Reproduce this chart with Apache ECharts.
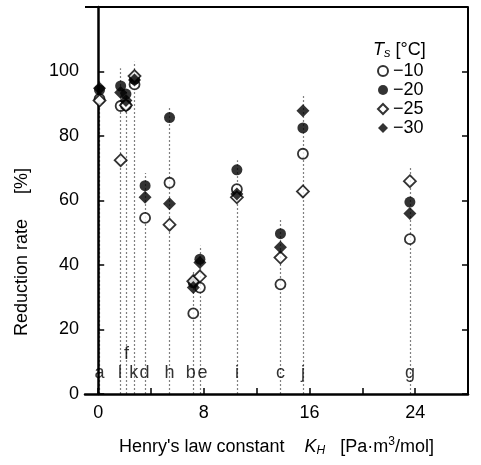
<!DOCTYPE html>
<html>
<head>
<meta charset="utf-8">
<script src="https://cdn.jsdelivr.net/npm/echarts@6/dist/echarts.min.js"></script>
<style>
  html, body { margin: 0; padding: 0; background: #fff; }
  #main { width: 481px; height: 465px; }
</style>
</head>
<body>
<div id="main"></div>
<script>
// compounds and their Henry's law constants
const compounds = ['a', 'l', 'f', 'k', 'd', 'h', 'b', 'e', 'i', 'c', 'j', 'g'];
const kh = [0.1, 1.7, 2.1, 2.75, 3.55, 5.4, 7.2, 7.7, 10.5, 13.8, 15.5, 23.6];
// reduction rate [%] for each surface temperature
const t10 = [91.5, 89.3, 89.5, 96, 54.6, 65.5, 25, 33, 63.5, 34, 74.5, 48];
const t20 = [94.3, 95.5, 93, 97.6, 64.6, 85.7, 34.5, 41.8, 69.5, 49.7, 82.5, 59.5];
const t25 = [91, 72.5, 89.5, 98.6, null, 52.5, 35, 36.5, 61, 42.3, 62.8, 66];
const t30 = [94.8, 93.5, 91, 97.4, 61, 59, 33, 40.8, 62, 45.5, 87.8, 56];
// top of the dotted guide line for each compound
const lineTop = [97, 101, 94, 103, 68.5, 89, 38, 46, 72.5, 54, 92.5, 70.5];
const labelY = [6.5, 6.5, 12.5, 6.5, 6.5, 6.5, 6.5, 6.5, 6.5, 6.5, 6.5, 6.5];
const labelX = [0.1, 1.65, 2.15, 2.7, 3.5, 5.4, 7.0, 7.9, 10.5, 13.8, 15.5, 23.6];
const xTicks = [0, 4, 8, 12, 16, 20, 24, 28];
const xLabels = [0, 8, 16, 24];
const yLabels = [0, 20, 40, 60, 80, 100];

const font = 'Liberation Sans, Arial, sans-serif';
const chart = echarts.init(document.getElementById('main'));

function pairs(vals) {
  return kh.map((x, i) => [x, vals[i]]);
}

const open = { color: '#fff', borderColor: '#000', borderWidth: 1.8 };
const filled = { color: '#000', borderColor: '#000', borderWidth: 0 };

const option = {
  animation: false,
  textStyle: { fontFamily: font, color: '#000' },
  grid: { left: 85, right: 13, top: 7, bottom: 71 },
  title: {
    text: '{i|T}{s|s}{n| [°C]}',
    left: 368,
    top: 35,
    textStyle: {
      fontWeight: 'normal',
      rich: {
        i: { fontSize: 18, fontStyle: 'italic', fontWeight: 'normal', fontFamily: font, color: '#000' },
        s: { fontSize: 13, fontStyle: 'italic', fontWeight: 'normal', fontFamily: font, color: '#000', padding: [7, 0, 0, 0] },
        n: { fontSize: 18, fontWeight: 'normal', fontFamily: font, color: '#000' }
      }
    }
  },
  legend: {
    data: ['−10', '−20', '−25', '−30'],
    orient: 'vertical',
    left: 372,
    top: 57,
    itemWidth: 10,
    itemHeight: 10,
    itemGap: 1,
    textStyle: { fontSize: 18, fontFamily: font, color: '#000', lineHeight: 16 }
  },
  xAxis: {
    type: 'value',
    min: -1,
    max: 28,
    name: "Henry's law constant    {i|K}{sub|H}   [Pa·m{sup|3}/mol]",
    nameLocation: 'middle',
    nameGap: 42,
    nameTextStyle: {
      fontSize: 18,
      fontFamily: font,
      color: '#000',
      rich: {
        i: { fontSize: 18, fontStyle: 'italic', fontFamily: font, color: '#000' },
        sub: { fontSize: 12, fontStyle: 'italic', fontFamily: font, color: '#000', padding: [8, 0, 0, 0] },
        sup: { fontSize: 12, fontFamily: font, color: '#000', padding: [0, 0, 10, 0] }
      }
    },
    axisLine: { onZero: false, lineStyle: { color: '#000', width: 2.5 } },
    axisTick: { inside: true, length: 6, customValues: xTicks, lineStyle: { color: '#000', width: 1.5 } },
    axisLabel: { customValues: xLabels, fontSize: 18, fontFamily: font, color: '#000', margin: 10 },
    splitLine: { show: false }
  },
  yAxis: [
    {
      type: 'value',
      min: 0,
      max: 120,
      interval: 20,
      axisLine: { show: true, lineStyle: { color: '#000', width: 2.5 } },
      axisTick: { show: true, inside: true, length: 6, lineStyle: { color: '#000', width: 1.5 } },
      axisLabel: { customValues: yLabels, fontSize: 18, fontFamily: font, color: '#000', margin: 6 },
      splitLine: { show: false }
    },
    {
      type: 'value',
      min: 0,
      max: 120,
      interval: 20,
      position: 'right',
      axisLine: { show: true, lineStyle: { color: '#000', width: 2 } },
      axisTick: { show: true, inside: true, length: 6, lineStyle: { color: '#000', width: 1.5 } },
      axisLabel: { show: false },
      splitLine: { show: false }
    }
  ],
  graphic: [
    {
      type: 'line',
      shape: { x1: 85, y1: 7, x2: 468, y2: 7 },
      style: { stroke: '#000', lineWidth: 2 }
    },
    {
      type: 'text',
      x: 22,
      y: 252,
      rotation: Math.PI / 2,
      style: {
        text: 'Reduction rate     [%]',
        fontSize: 18,
        fontFamily: font,
        fill: '#000',
        align: 'center',
        verticalAlign: 'middle'
      }
    }
  ],
  series: [
    {
      name: 'guides',
      type: 'lines',
      coordinateSystem: 'cartesian2d',
      silent: true,
      z: 1,
      lineStyle: { color: '#000', width: 1.2, type: [2, 2] },
      data: kh.map((x, i) => ({ coords: [[x, 0], [x, lineTop[i]]] }))
    },
    {
      name: 'labels',
      type: 'scatter',
      symbolSize: 1,
      itemStyle: { color: 'rgba(0,0,0,0)' },
      z: 3,
      label: {
        show: true,
        position: 'inside',
        formatter: p => p.value[2],
        fontSize: 18,
        fontFamily: font,
        color: '#000'
      },
      data: labelX.map((x, i) => [x, labelY[i], compounds[i]])
    },
    { name: '−10', type: 'scatter', symbol: 'circle', symbolSize: 10, itemStyle: open, z: 4, data: pairs(t10) },
    { name: '−20', type: 'scatter', symbol: 'circle', symbolSize: 11, itemStyle: filled, z: 4, data: pairs(t20) },
    { name: '−25', type: 'scatter', symbol: 'diamond', symbolSize: 12, itemStyle: open, z: 4, data: pairs(t25) },
    { name: '−30', type: 'scatter', symbol: 'diamond', symbolSize: 13, itemStyle: filled, z: 4, data: pairs(t30) }
  ]
};

chart.setOption(option);
</script>
</body>
</html>
